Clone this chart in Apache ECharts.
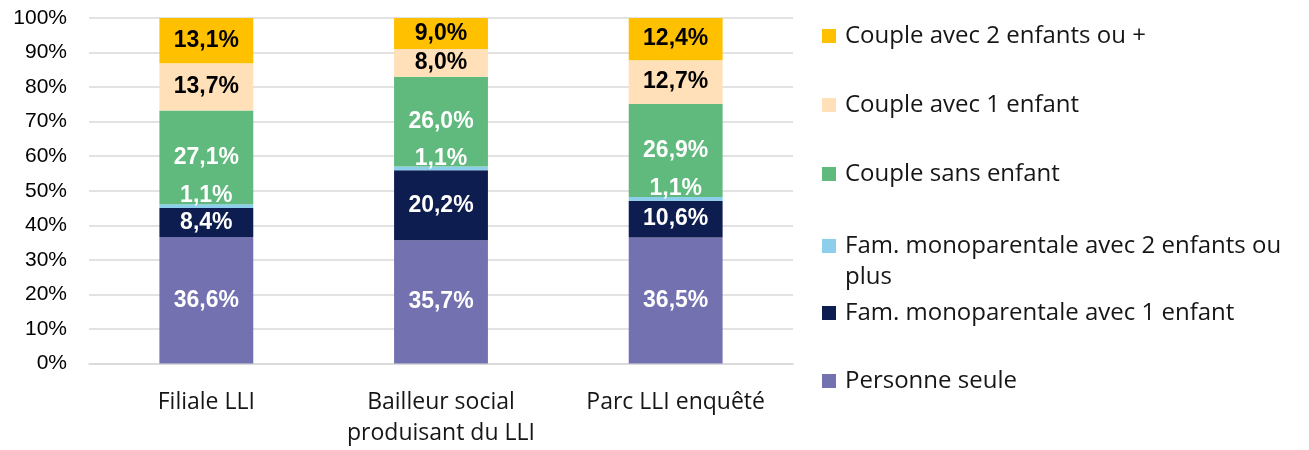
<!DOCTYPE html>
<html>
<head>
<meta charset="utf-8">
<script src="https://cdn.jsdelivr.net/npm/echarts@6/dist/echarts.min.js"></script>
<style>
  html, body { margin: 0; padding: 0; background: #ffffff; }
  #chart { width: 1309px; height: 450px; }
</style>
</head>
<body>
<div id="chart"></div>
<script>
// Household composition by type of landlord (shares in %)
const categories = ['Filiale LLI', 'Bailleur social\nproduisant du LLI', 'Parc LLI enquêté'];

const personneSeule   = [36.6, 35.7, 36.5];
const monoUnEnfant    = [8.4, 20.2, 10.6];
const monoDeuxPlus    = [1.1, 1.1, 1.1];
const coupleSans      = [27.1, 26.0, 26.9];
const coupleUnEnfant  = [13.7, 8.0, 12.7];
const coupleDeuxPlus  = [13.1, 9.0, 12.4];

const seriesNames = [
  'Personne seule',
  'Fam. monoparentale avec 1 enfant',
  'Fam. monoparentale avec 2 enfants ou plus',
  'Couple sans enfant',
  'Couple avec 1 enfant',
  'Couple avec 2 enfants ou +'
];
const yTicks = [0, 10, 20, 30, 40, 50, 60, 70, 80, 90, 100];

const seriesData = [personneSeule, monoUnEnfant, monoDeuxPlus, coupleSans, coupleUnEnfant, coupleDeuxPlus];
const colors = ['#7471B0', '#0D1D50', '#8DCFEA', '#60B97D', '#FFE0B8', '#FFC000'];
const labelColors = ['#ffffff', '#ffffff', '#ffffff', '#ffffff', '#000000', '#000000'];
const labelOffsets = [[0, 0], [0, 0], [0, -10], [0, 0], [0, 0], [0, 0]];

const uiFont = '"Open Sans"';
const numFont = '"Liberation Sans", Arial, sans-serif';

const fmt = v => v.toFixed(1).replace('.', ',') + '%';

const series = seriesData.map((data, i) => ({
  name: seriesNames[i],
  type: 'bar',
  stack: 'total',
  data: data,
  barWidth: '40%',
  itemStyle: { color: colors[i] },
  label: {
    show: true,
    position: 'inside',
    offset: labelOffsets[i],
    color: labelColors[i],
    fontFamily: numFont,
    fontWeight: 'bold',
    fontSize: 23,
    formatter: p => fmt(p.value)
  },
  emphasis: { disabled: true }
}));

// Legend: one block per entry, listed top to bottom from the top of the stack.
// The long entry wraps; a leading blank line keeps its swatch on the first line.
const legendCenters = [36, 105, 174, 246, 313, 381];
const legendLine = 31;
const legendOrder = [5, 4, 3, 2, 1, 0];
const legends = legendOrder.map((si, k) => {
  const name = seriesNames[si];
  const twoLine = si === 2;
  return {
    data: [name],
    orient: 'vertical',
    left: 822,
    top: twoLine ? legendCenters[k] - legendLine * 1.5 : legendCenters[k] - legendLine / 2,
    padding: 0,
    itemWidth: 14,
    itemHeight: 14,
    icon: 'rect',
    selectedMode: false,
    formatter: n => (n === 'Fam. monoparentale avec 2 enfants ou plus' ? '\nFam. monoparentale avec 2 enfants ou\nplus' : n),
    textStyle: {
      fontFamily: uiFont,
      fontSize: 24,
      color: '#161616',
      lineHeight: legendLine,
      padding: [0, 0, 0, 4]
    }
  };
});

const chart = echarts.init(document.getElementById('chart'), null, { renderer: 'canvas' });
chart.setOption({
  animation: false,
  backgroundColor: '#ffffff',
  grid: { left: 89, right: 516, top: 18, bottom: 86.5, containLabel: false },
  legend: legends,
  xAxis: {
    type: 'category',
    data: categories,
    axisLine: { show: true, lineStyle: { color: '#D9D9D9', width: 1.5 } },
    axisTick: { show: false },
    axisLabel: {
      margin: 23,
      fontFamily: uiFont,
      fontSize: 23,
      color: '#161616',
      lineHeight: 31,
      interval: 0
    }
  },
  yAxis: {
    type: 'value',
    min: 0,
    max: 100,
    interval: 10,
    axisLine: { show: false },
    axisTick: { show: false },
    splitLine: { lineStyle: { color: '#D9D9D9', width: 1.5 } },
    axisLabel: {
      margin: 22,
      fontFamily: numFont,
      fontSize: 21,
      color: '#000000',
      formatter: v => (yTicks.includes(v) ? v + '%' : '')
    }
  },
  series: series
});
</script>
</body>
</html>
